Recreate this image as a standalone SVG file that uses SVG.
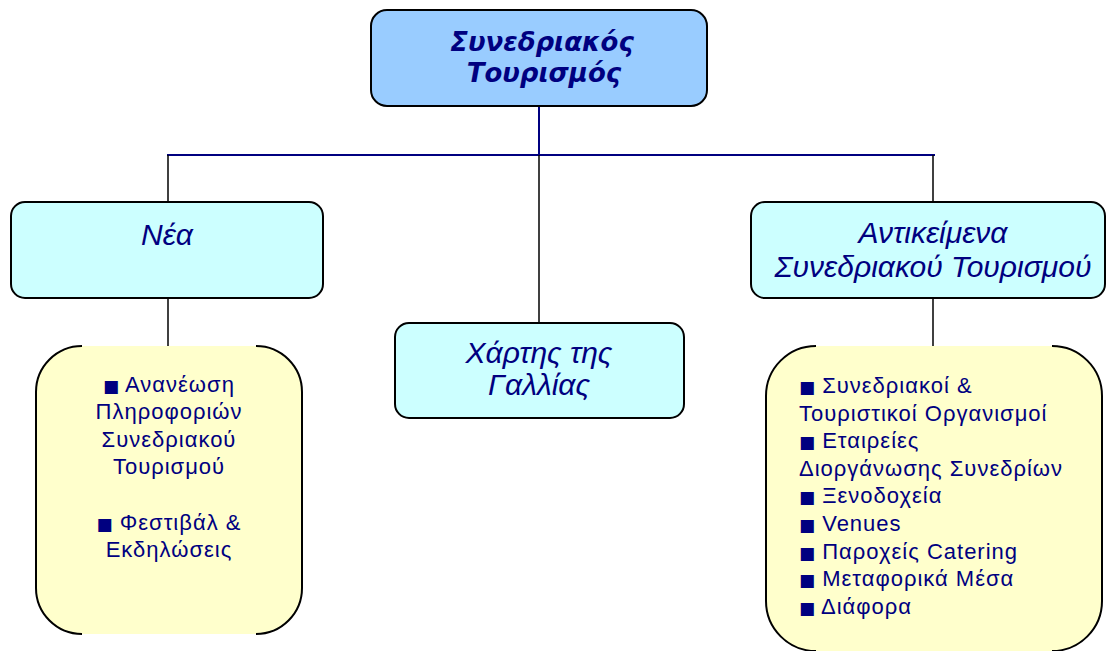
<svg xmlns="http://www.w3.org/2000/svg" width="1107" height="651" viewBox="0 0 1107 651">
<style>
.box{stroke:#000;stroke-width:2}
.top{fill:#99CCFF}
.cy{fill:#CCFFFF}
.yl{fill:#FFFFCC}
.edge{fill:none;stroke:#000;stroke-width:2}
.t{font-family:"Liberation Sans",Arial,sans-serif;fill:#000080}
.h{font-size:30px;font-style:italic;text-anchor:middle}
.b{font-family:"DejaVu Sans",Verdana,sans-serif;font-weight:bold;font-size:26px}
.s{font-size:22px;letter-spacing:1px}
.bl{font-family:"DejaVu Sans",sans-serif;font-size:17px;letter-spacing:0}
.navy{stroke:#000080;stroke-width:2;fill:none}
.blk{stroke:#000;stroke-width:1.5;fill:none}
</style>
<rect width="1107" height="651" fill="#fff"/>
<g id="connectors">
<line class="navy" x1="539" y1="106" x2="539" y2="155"/>
<line class="navy" x1="167" y1="155" x2="935" y2="155"/>
<line class="blk" x1="168" y1="155" x2="168" y2="202"/>
<line class="blk" x1="539" y1="155" x2="539" y2="323"/>
<line class="blk" x1="933" y1="155" x2="933" y2="202"/>
<line class="blk" x1="168" y1="298" x2="168" y2="346"/>
<line class="blk" x1="933" y1="298" x2="933" y2="346"/>
</g>
<g id="root">
<rect class="box top" x="371" y="10" width="336" height="96" rx="16"/>
<text class="t h b" x="542" y="51">Συνεδριακός</text>
<text class="t h b" x="544" y="82">Τουρισμός</text>
</g>
<g id="nea">
<rect class="box cy" x="11" y="202" width="312" height="96" rx="14"/>
<text class="t h" x="167" y="245">Νέα</text>
</g>
<g id="xartis">
<rect class="box cy" x="395" y="323" width="289" height="95" rx="14"/>
<text class="t h" x="539" y="363">Χάρτης της</text>
<text class="t h" x="539" y="395">Γαλλίας</text>
</g>
<g id="antikeimena">
<rect class="box cy" x="751" y="202" width="354" height="96" rx="14"/>
<text class="t h" x="933" y="243">Αντικείμενα</text>
<text class="t h" x="933" y="277">Συνεδριακού Τουρισμού</text>
</g>
<g id="nea-list">
<rect class="yl" x="36" y="346" width="266" height="288" rx="46"/>
<path class="edge" d="M82 346A46 46 0 0 0 36 392L36 588A46 46 0 0 0 82 634M256 346A46 46 0 0 1 302 392L302 588A46 46 0 0 1 256 634"/>
<g class="t s" text-anchor="middle">
<text x="169" y="392"><tspan class="bl">■</tspan> Ανανέωση</text>
<text x="169" y="419">Πληροφοριών</text>
<text x="169" y="447">Συνεδριακού</text>
<text x="169" y="474">Τουρισμού</text>
<text x="169" y="530"><tspan class="bl">■</tspan> Φεστιβάλ &amp;</text>
<text x="169" y="557">Εκδηλώσεις</text>
</g>
</g>
<g id="antikeimena-list">
<rect class="yl" x="766" y="346" width="336" height="305" rx="50"/>
<path class="edge" d="M816 346A50 50 0 0 0 766 396L766 601A50 50 0 0 0 816 651M1052 346A50 50 0 0 1 1102 396L1102 601A50 50 0 0 1 1052 651"/>
<g class="t s">
<text x="799" y="393"><tspan class="bl">■</tspan> Συνεδριακοί &amp;</text>
<text x="799" y="420.6">Τουριστικοί Οργανισμοί</text>
<text x="799" y="448.2"><tspan class="bl">■</tspan> Εταιρείες</text>
<text x="799" y="475.8">Διοργάνωσης Συνεδρίων</text>
<text x="799" y="503.4"><tspan class="bl">■</tspan> Ξενοδοχεία</text>
<text x="799" y="531"><tspan class="bl">■</tspan> Venues</text>
<text x="799" y="558.6"><tspan class="bl">■</tspan> Παροχείς Catering</text>
<text x="799" y="586.2"><tspan class="bl">■</tspan> Μεταφορικά Μέσα</text>
<text x="799" y="613.8"><tspan class="bl">■</tspan> Διάφορα</text>
</g>
</g>
</svg>
